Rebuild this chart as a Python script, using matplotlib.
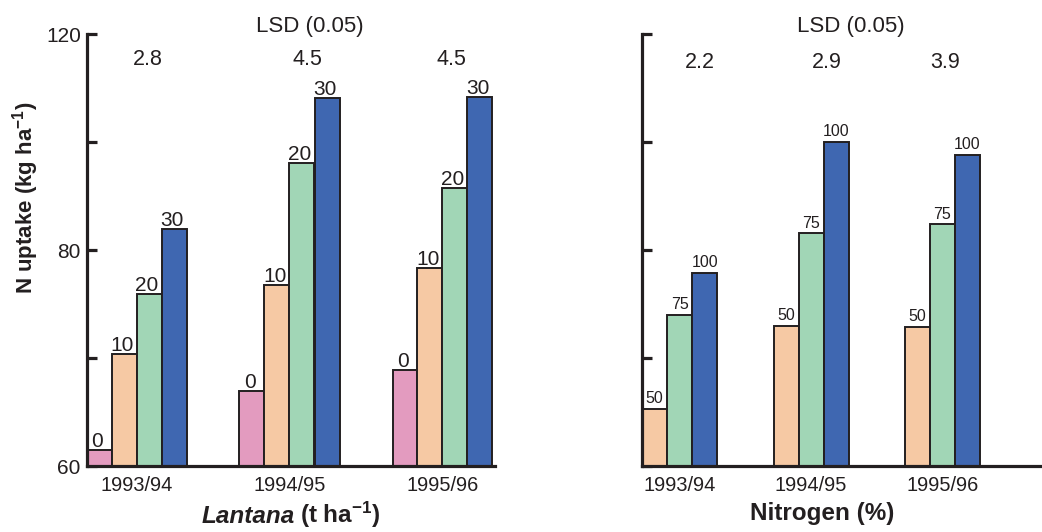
import numpy as np
import matplotlib
matplotlib.use("Agg")
import matplotlib.pyplot as plt

plt.rcParams['font.family'] = ['Liberation Sans', 'DejaVu Sans']
plt.rcParams['mathtext.fontset'] = 'custom'
plt.rcParams['mathtext.rm'] = 'Liberation Sans'
plt.rcParams['mathtext.bf'] = 'Liberation Sans:bold'
plt.rcParams['mathtext.it'] = 'Liberation Sans:italic'
plt.rcParams['mathtext.default'] = 'bf'

# ---------------- data ----------------
years = ['1993/94', '1994/95', '1995/96']

lantana_levels = ['0', '10', '20', '30']
lantana_0 = [61.5, 66.9, 68.9]
lantana_10 = [70.4, 76.8, 78.3]
lantana_20 = [75.9, 96.1, 91.5]
lantana_30 = [83.9, 108.1, 108.3]
lsd_lantana = ['2.8', '4.5', '4.5']

nitrogen_levels = ['50', '75', '100']
nitrogen_50 = [65.3, 73.0, 72.9]
nitrogen_75 = [74.0, 83.1, 84.8]
nitrogen_100 = [77.9, 100.0, 97.6]
lsd_nitrogen = ['2.2', '2.9', '3.9']

y_ticks = [60, 70, 80, 100, 120]
y_ticklabels = ['60', '', '80', '', '120']

# ---------------- style ----------------
pink = '#E39BBF'
peach = '#F6C9A4'
green = '#A1D6B6'
blue = '#3F67B1'
ink = '#231F20'

W, H = 1042, 532


def fwd(v):
    v = np.asarray(v, dtype=float)
    return np.where(v <= 80, (v - 60) / 20.0, 1 + (v - 80) / 40.0)


def inv(u):
    u = np.asarray(u, dtype=float)
    return np.where(u <= 1, 60 + 20.0 * u, 80 + 40.0 * (u - 1))


fig = plt.figure(figsize=(W / 100, H / 100), dpi=100)
axL = fig.add_axes([87 / W, (H - 466) / H, 408 / W, 432 / H])
axR = fig.add_axes([642 / W, (H - 466) / H, 400 / W, 432 / H])


def style_axis(ax, labels):
    ax.set_yscale('function', functions=(fwd, inv))
    ax.set_ylim(60, 120)
    ax.set_yticks(y_ticks)
    ax.set_yticklabels(labels)
    ax.minorticks_off()
    for s in ['top', 'right']:
        ax.spines[s].set_visible(False)
    for s in ['left', 'bottom']:
        ax.spines[s].set_linewidth(2.3)
        ax.spines[s].set_color(ink)
        ax.spines[s].set_capstyle('projecting')
    ax.tick_params(axis='y', direction='in', length=7.5, width=2.3, color=ink,
                   labelsize=15, pad=4.5, labelcolor=ink)
    ax.tick_params(axis='x', length=0, labelsize=14.4, pad=7, labelcolor=ink)
    ax.set_xticks(np.arange(len(years)))
    ax.set_xticklabels(years)


# ---------------- left panel ----------------
style_axis(axL, y_ticklabels)
xg = np.arange(len(years))
wL = 25 / 153
seriesL = [lantana_0, lantana_10, lantana_20, lantana_30]
colorsL = [pink, peach, green, blue]
for k, (vals, col, lab) in enumerate(zip(seriesL, colorsL, lantana_levels)):
    xs = xg + (k - 1.5) * wL
    vals = np.asarray(vals)
    axL.bar(xs, vals - 60, bottom=60, width=wL, color=col, edgecolor=ink,
            linewidth=1.4, zorder=2)
    for x, v in zip(xs, vals):
        axL.annotate(lab, (x, v), xytext=(-1.5, 2.2), textcoords='offset points',
                     ha='center', va='baseline', fontsize=15, color=ink)
axL.set_xlim(-(136.5 - 87) / 153, (495 - 136.5) / 153)

lsd_dx_L = [0.075, 0.118, 0.059]
for i, t in enumerate(lsd_lantana):
    axL.text(xg[i] + lsd_dx_L[i], (466 - 65) / 432, t, transform=axL.get_xaxis_transform(),
             ha='center', va='baseline', fontsize=15.5, color=ink)

# ---------------- right panel ----------------
style_axis(axR, [''] * len(y_ticks))
wR = 25 / 131.3
seriesR = [nitrogen_50, nitrogen_75, nitrogen_100]
colorsR = [peach, green, blue]
for k, (vals, col, lab) in enumerate(zip(seriesR, colorsR, nitrogen_levels)):
    xs = xg + (k - 1) * wR
    vals = np.asarray(vals)
    axR.bar(xs, vals - 60, bottom=60, width=wR, color=col, edgecolor=ink,
            linewidth=1.4, zorder=2)
    for x, v in zip(xs, vals):
        axR.annotate(lab, (x, v), xytext=(0, 4.0), textcoords='offset points',
                     ha='center', va='baseline', fontsize=11.5, color=ink)
axR.set_xlim(-(679.7 - 642) / 131.3, (1042 - 679.7) / 131.3)

lsd_dx_R = [0.155, 0.122, 0.02]
for i, t in enumerate(lsd_nitrogen):
    axR.text(xg[i] + lsd_dx_R[i], (466 - 68) / 432, t, transform=axR.get_xaxis_transform(),
             ha='center', va='baseline', fontsize=15.5, color=ink)

# ---------------- headers and axis titles ----------------
fig.text(310 / W, 1 - 32 / H, 'LSD (0.05)', ha='center', va='baseline', fontsize=16, color=ink)
fig.text(851 / W, 1 - 32 / H, 'LSD (0.05)', ha='center', va='baseline', fontsize=16, color=ink)

fig.text(26 / W, 1 - 198 / H, r'N uptake (kg ha$^{-1}$)', rotation=90, ha='center', va='center',
         fontsize=16, fontweight='bold', color=ink)

t1 = fig.text(202 / W, 1 - 523 / H, 'Lantana', ha='left', va='baseline', fontsize=17.5,
              fontweight='bold', fontstyle='italic', color=ink)
fig.canvas.draw()
bb = t1.get_window_extent()
fig.text(bb.x1 / W + 5 / W, 1 - 523 / H, r'(t ha$^{-1}$)', ha='left', va='baseline', fontsize=17.5,
         fontweight='bold', color=ink)

fig.text(822 / W, 1 - 520 / H, 'Nitrogen (%)', ha='center', va='baseline', fontsize=17.5,
         fontweight='bold', color=ink)

fig.savefig('out.png', dpi=100)
